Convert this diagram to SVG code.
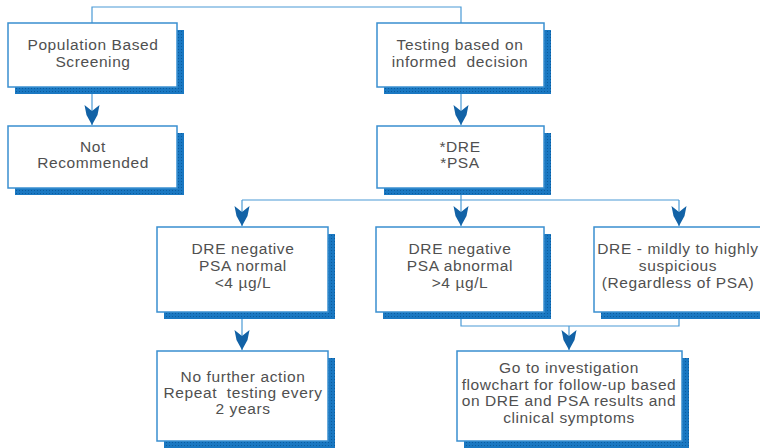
<svg xmlns="http://www.w3.org/2000/svg" width="760" height="448" viewBox="0 0 760 448">
<defs>
<pattern id="dots" width="3" height="3" patternUnits="userSpaceOnUse">
<rect width="3" height="3" fill="#1a78c2"/>
<rect x="1" y="1" width="1" height="1" fill="#0b5c9e"/>
</pattern>
<marker id="ah" markerUnits="userSpaceOnUse" viewBox="-21 -8 22 16" markerWidth="22" markerHeight="16" refX="0" refY="0" orient="auto">
<path d="M0,0 L-10,-5.5 L-20,-7.5 L-14,0 L-20,7.5 L-10,5.5 Z" fill="#1262a6"/>
</marker>
</defs>
<style>
.box{fill:#fff;stroke:#3a8fd0;stroke-width:1.5}
.sh{fill:url(#dots)}
.ln{fill:none;stroke:#4a9ad6;stroke-width:1.2}
.ar{marker-end:url(#ah)}
text{font-family:"Liberation Sans",Arial,sans-serif;font-size:15.5px;fill:#505050;text-anchor:middle;letter-spacing:0.6px;white-space:pre}
</style>
<g id="connectors">
<path class="ln" d="M92,23 V7 H461 V23"/>
<path class="ln ar" d="M92,87 V125"/>
<path class="ln ar" d="M461,87 V125"/>
<path class="ln" d="M461,188 V200 M242,200 H679"/>
<path class="ln ar" d="M242,200 V226"/>
<path class="ln ar" d="M461,200 V226"/>
<path class="ln ar" d="M679,200 V226"/>
<path class="ln ar" d="M242,312 V350"/>
<path class="ln" d="M461,312 V326 H679 V312"/>
<path class="ln ar" d="M569,326 V350"/>
</g>
<g id="n-population">
<rect class="sh" x="15" y="30" width="169" height="64"/>
<rect class="box" x="8" y="23" width="169" height="64"/>
<text x="93" y="50">Population Based</text>
<text x="93" y="67">Screening</text>
</g>
<g id="n-testing">
<rect class="sh" x="384" y="30" width="167" height="64"/>
<rect class="box" x="377" y="23" width="167" height="64"/>
<text x="460" y="50">Testing based on</text>
<text x="460" y="67">informed  decision</text>
</g>
<g id="n-notrec">
<rect class="sh" x="15" y="133" width="169" height="62"/>
<rect class="box" x="8" y="126" width="169" height="62"/>
<text x="93" y="152">Not</text>
<text x="93" y="168">Recommended</text>
</g>
<g id="n-drepsa">
<rect class="sh" x="384" y="133" width="167" height="62"/>
<rect class="box" x="377" y="126" width="167" height="62"/>
<text x="460" y="152">*DRE</text>
<text x="460" y="168">*PSA</text>
</g>
<g id="n-normal">
<rect class="sh" x="164" y="234" width="171" height="85"/>
<rect class="box" x="157" y="227" width="171" height="85"/>
<text x="243" y="254">DRE negative</text>
<text x="243" y="271">PSA normal</text>
<text x="243" y="288">&lt;4 µg/L</text>
</g>
<g id="n-abnormal">
<rect class="sh" x="383" y="234" width="168" height="85"/>
<rect class="box" x="376" y="227" width="168" height="85"/>
<text x="460" y="254">DRE negative</text>
<text x="460" y="271">PSA abnormal</text>
<text x="460" y="288">&gt;4 µg/L</text>
</g>
<g id="n-suspicious">
<rect class="sh" x="601" y="234" width="170" height="85"/>
<rect class="box" x="594" y="227" width="170" height="85"/>
<text x="678" y="254">DRE - mildly to highly</text>
<text x="678" y="271">suspicious</text>
<text x="678" y="288">(Regardless of PSA)</text>
</g>
<g id="n-nofurther">
<rect class="sh" x="164" y="358" width="171" height="90"/>
<rect class="box" x="157" y="351" width="171" height="90"/>
<text x="243" y="382">No further action</text>
<text x="243" y="398">Repeat  testing every</text>
<text x="243" y="414">2 years</text>
</g>
<g id="n-goto">
<rect class="sh" x="464" y="358" width="225" height="90"/>
<rect class="box" x="457" y="351" width="225" height="90"/>
<text x="569" y="373">Go to investigation</text>
<text x="569" y="390">flowchart for follow-up based</text>
<text x="569" y="406">on DRE and PSA results and</text>
<text x="569" y="423">clinical symptoms</text>
</g>
</svg>
